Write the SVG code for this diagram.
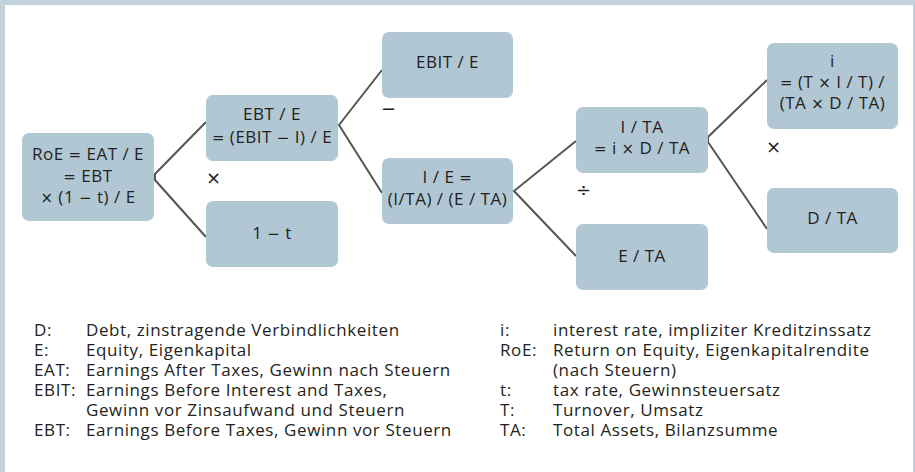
<svg xmlns="http://www.w3.org/2000/svg" width="915" height="472" viewBox="0 0 915 472">
<style>
.box{fill:#b1c7d4}
.t{font-family:"Open Sans","Noto Sans",sans-serif;font-size:17px;letter-spacing:0.5px;fill:#231f20;text-anchor:middle}
.m{font-family:"DejaVu Sans",sans-serif;font-size:15px}
.op{font-family:"DejaVu Sans",sans-serif;font-size:18px;fill:#231f20}
.lg{font-family:"Open Sans","Noto Sans",sans-serif;font-size:17px;letter-spacing:0.6px;fill:#231f20}
.con{fill:none;stroke:#555;stroke-width:2}
</style>
<rect x="0" y="0" width="915" height="472" fill="#c2d2dd"/>
<rect x="5" y="5" width="908" height="467" fill="#fff"/>
<g id="connectors">
<path class="con" d="M206,122 L155,174 L155,180 L206,237"/>
<path class="con" d="M382,70 L339,125 L382,193"/>
<path class="con" d="M576,141 L514,191 L576,256"/>
<path class="con" d="M767,80 L708,137 L708,142 L767,229"/>
</g>
<g id="roe"><rect class="box" x="22" y="133" width="132" height="88" rx="7"/>
<text class="t" x="88" y="160">RoE <tspan class="m">=</tspan> EAT / E</text>
<text class="t" x="88" y="182"><tspan class="m">=</tspan> EBT</text>
<text class="t" x="88" y="203"><tspan class="m">×</tspan> (1 <tspan class="m">−</tspan> t) / E</text></g>
<g id="ebt"><rect class="box" x="206" y="95" width="132" height="66" rx="7"/>
<text class="t" x="272" y="120">EBT / E</text>
<text class="t" x="272" y="143"><tspan class="m">=</tspan> (EBIT <tspan class="m">−</tspan> I) / E</text></g>
<g id="onet"><rect class="box" x="206" y="201" width="132" height="66" rx="7"/>
<text class="t" x="272" y="239">1 <tspan class="m">−</tspan> t</text></g>
<g id="ebit"><rect class="box" x="382" y="32" width="131" height="66" rx="7"/>
<text class="t" x="447.5" y="68">EBIT / E</text></g>
<g id="ie"><rect class="box" x="382" y="158" width="131" height="66" rx="7"/>
<text class="t" x="447.5" y="183">I / E <tspan class="m">=</tspan></text>
<text class="t" x="447.5" y="205">(I/TA) / (E / TA)</text></g>
<g id="ita"><rect class="box" x="576" y="107" width="132" height="66" rx="7"/>
<text class="t" x="642" y="133">I / TA</text>
<text class="t" x="642" y="154"><tspan class="m">=</tspan> i <tspan class="m">×</tspan> D / TA</text></g>
<g id="eta"><rect class="box" x="576" y="224" width="132" height="66" rx="7"/>
<text class="t" x="642" y="262">E / TA</text></g>
<g id="i"><rect class="box" x="767" y="43" width="131" height="86" rx="7"/>
<text class="t" x="832.5" y="67">i</text>
<text class="t" x="832.5" y="88"><tspan class="m">=</tspan> (T <tspan class="m">×</tspan> I / T) /</text>
<text class="t" x="832.5" y="109">(TA <tspan class="m">×</tspan> D / TA)</text></g>
<g id="dta"><rect class="box" x="767" y="188" width="131" height="65" rx="7"/>
<text class="t" x="832.5" y="224">D / TA</text></g>
<g id="operators">
<text class="op" x="206" y="184">×</text>
<text class="op" x="381" y="115">−</text>
<text class="op" x="576" y="196">÷</text>
<text class="op" x="766" y="153">×</text>
</g>
<g id="legend">
<text class="lg" x="34" y="336">D:</text><text class="lg" x="86" y="336">Debt, zinstragende Verbindlichkeiten</text>
<text class="lg" x="34" y="356">E:</text><text class="lg" x="86" y="356">Equity, Eigenkapital</text>
<text class="lg" x="34" y="376">EAT:</text><text class="lg" x="86" y="376">Earnings After Taxes, Gewinn nach Steuern</text>
<text class="lg" x="34" y="396">EBIT:</text><text class="lg" x="86" y="396">Earnings Before Interest and Taxes,</text>
<text class="lg" x="86" y="416">Gewinn vor Zinsaufwand und Steuern</text>
<text class="lg" x="34" y="436">EBT:</text><text class="lg" x="86" y="436">Earnings Before Taxes, Gewinn vor Steuern</text>
<text class="lg" x="500" y="336">i:</text><text class="lg" x="553" y="336">interest rate, impliziter Kreditzinssatz</text>
<text class="lg" x="500" y="356">RoE:</text><text class="lg" x="553" y="356">Return on Equity, Eigenkapitalrendite</text>
<text class="lg" x="553" y="376">(nach Steuern)</text>
<text class="lg" x="500" y="396">t:</text><text class="lg" x="553" y="396">tax rate, Gewinnsteuersatz</text>
<text class="lg" x="500" y="416">T:</text><text class="lg" x="553" y="416">Turnover, Umsatz</text>
<text class="lg" x="500" y="436">TA:</text><text class="lg" x="553" y="436">Total Assets, Bilanzsumme</text>
</g>
</svg>
